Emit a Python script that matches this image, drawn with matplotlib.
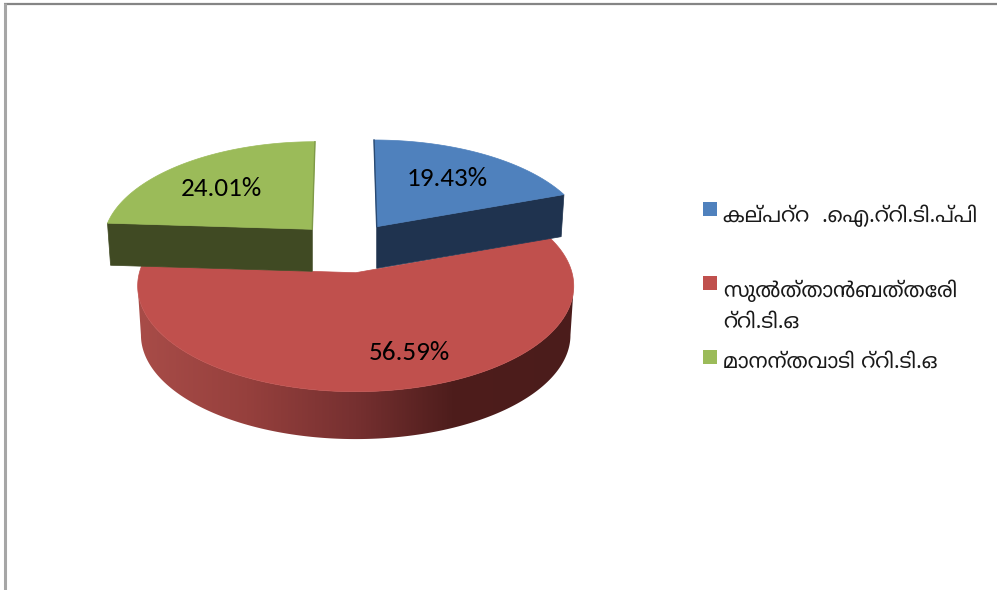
import numpy as np
import matplotlib
matplotlib.use('Agg')
import matplotlib.pyplot as plt
from matplotlib.patches import Polygon, Rectangle
from matplotlib.colors import LinearSegmentedColormap

# ---- data ----
categories = ['കല്പറ്റ  .ഐ.റ്റി.ടി.പ്പി', 'സുൽത്താൻബത്തേരി\nറ്റി.ടി.ഒ', 'മാനന്തവാടി റ്റി.ടി.ഒ']
values = [19.43, 56.59, 24.01]
top_colors = ['#4F81BD', '#C0504D', '#9BBB59']
side_colors = ['#1F334F', '#4B1C1B', '#404A23']
edge_colors = ['#2A4A72', '#C0504D', '#7F9A48']

# ---- per-slice layout (pixels): apex x, apex y, x radius, y radius, lean, depth ----
apex_x = [376.7, 355.7, 312.3]
apex_y = [226.7, 272.7, 229.3]
rad_x = [209.0, 216.3, 207.0]
rad_y = [97.6, 104.0, 98.6]
lean = [-2.7, 0.0, 2.7]
depth = [41.6, 49.2, 42.0]
PERSP = 0.1258
BOTTOM_SCALE = 0.985
label_xy = [(447, 178), (409, 352.5), (221, 188)]
legend_y = [209, 283, 357]
legend_text_y = [216, 306, 362]

fig = plt.figure(figsize=(9.97, 5.9), dpi=100)
ax = fig.add_axes([0, 0, 1, 1])


def project(i, theta, bottom=False):
    """Clockwise pie angle (radians, 0 = up) to picture position, with perspective."""
    X, Y = np.sin(theta), np.cos(theta)
    f = 1 + PERSP * Y
    s = BOTTOM_SCALE if bottom else 1.0
    x = apex_x[i] + s * (rad_x[i] * X / f + lean[i] * Y)
    y = apex_y[i] + (depth[i] if bottom else 0) - s * rad_y[i] * Y / f
    return np.column_stack([x, y])


def apex(i, bottom=False):
    return np.array([[apex_x[i], apex_y[i] + (depth[i] if bottom else 0)]])


edges = np.cumsum([0] + values) / sum(values) * 2 * np.pi

# red slice first: outer wall with a gradient, then its top
i = 1
limb = np.arccos(-PERSP)   # angle of the widest point of the projected rim
th_wall = np.linspace(limb, 2 * np.pi - limb, 401)
top, bot = project(i, th_wall), project(i, th_wall, True)
grad = LinearSegmentedColormap.from_list('wall', [(0, '#A84C48'), (0.25, '#96403D'), (0.5, '#763030'),
                                                  (0.72, '#4E1D1C'), (1, '#4B1C1B')])
wall = Polygon(np.vstack([top, bot[::-1]]), closed=True, fc='none', ec='none', zorder=1)
ax.add_patch(wall)
img = ax.imshow(np.linspace(0, 1, 436).reshape(1, -1), cmap=grad, vmin=0, vmax=1, aspect='auto',
                extent=(138, 574, 445, 200), zorder=1, interpolation='bilinear')
img.set_clip_path(wall)
top = project(i, np.linspace(edges[1], edges[2], 401))
ax.add_patch(Polygon(np.vstack([apex(i), top]), closed=True, fc=top_colors[i], ec=top_colors[i], lw=0.5, zorder=2))

# blue and green slices: flat cut face, then top
for i, cut in ((0, edges[1]), (2, edges[2])):
    p_t, p_b = project(i, np.array([cut])), project(i, np.array([cut]), True)
    ax.add_patch(Polygon(np.vstack([apex(i), p_t, p_b, apex(i, True)]), closed=True,
                         fc=side_colors[i], ec=side_colors[i], lw=0.5, zorder=3))
    th = np.linspace(edges[i], edges[i + 1], 200)
    top = project(i, th)
    ax.add_patch(Polygon(np.vstack([apex(i), top]), closed=True, fc=top_colors[i], ec=top_colors[i], lw=0.5, zorder=4))
    r = project(i, np.array([0.0]))
    ax.plot([r[0, 0], apex_x[i]], [r[0, 1], apex_y[i]], color=edge_colors[i], lw=1.0, zorder=5)

# value labels
for v, (x, y) in zip(values, label_xy):
    ax.text(x, y, f'{v:.2f}%', ha='center', va='center', fontsize=19.5, color='black',
            family=['Carlito', 'Lato', 'DejaVu Sans'], zorder=6)

# legend
for c, col, y, ty in zip(categories, top_colors, legend_y, legend_text_y):
    ax.add_patch(Rectangle((703, y - 7), 14, 14, fc=col, ec='none', zorder=6))
    ax.text(723, ty, c, ha='left', va='center', fontsize=15, linespacing=1.6, color='#1a1a1a',
            family=['Noto Sans Malayalam', 'Manjari', 'DejaVu Sans'], zorder=6)

# frame lines at the top and left of the picture
ax.plot([3.5, 997], [4, 4], color='#858585', lw=1.6, solid_capstyle='butt', zorder=7)
ax.plot([5, 5], [3, 590], color='#A6A6A6', lw=2.2, solid_capstyle='butt', zorder=7)

ax.set_xlim(0, 997)
ax.set_ylim(590, 0)
ax.axis('off')
fig.savefig('out.png', dpi=100)
